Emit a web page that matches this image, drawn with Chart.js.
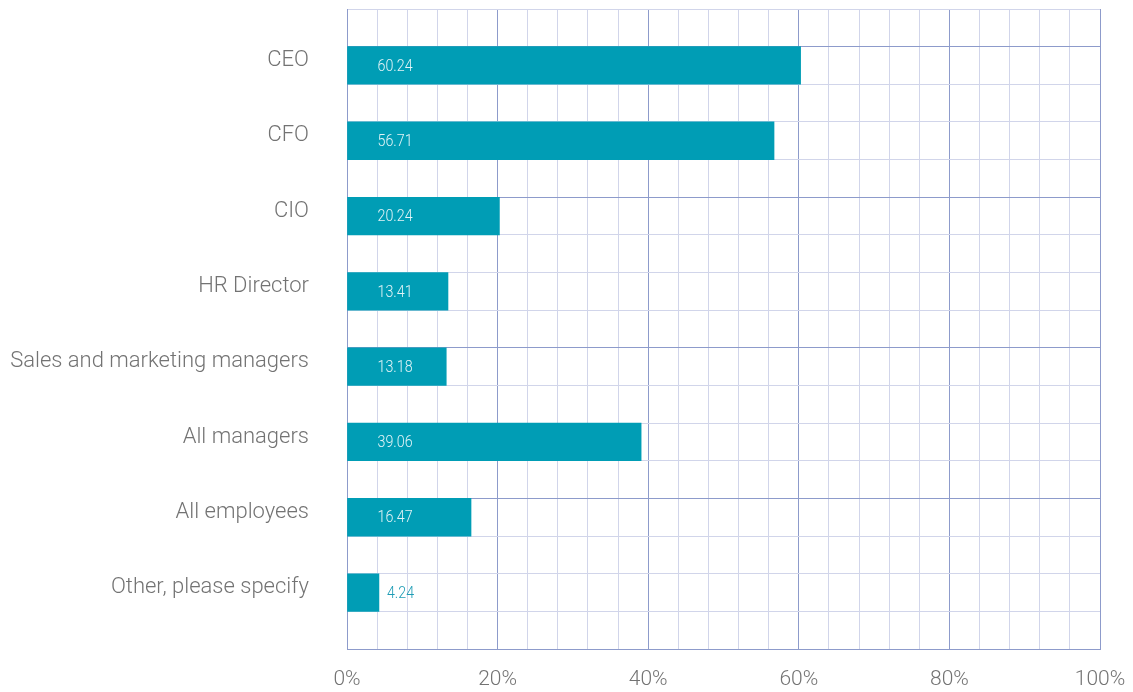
<!DOCTYPE html>
<html>
<head>
<meta charset="utf-8">
<script src="https://cdn.jsdelivr.net/npm/chart.js@4.4.1/dist/chart.umd.min.js"></script>
<style>
  html, body { margin: 0; padding: 0; background: #fff; }
  #wrap { width: 1133px; height: 692px; }
</style>
</head>
<body>
<div id="wrap"><canvas id="roleChart"></canvas></div>
<script>
const roles = [
  "CEO",
  "CFO",
  "CIO",
  "HR Director",
  "Sales and marketing managers",
  "All managers",
  "All employees",
  "Other, please specify",
];
const shares = [60.24, 56.71, 20.24, 13.41, 13.18, 39.06, 16.47, 4.24];
const pctMax = 100;
const pctStep = 4;
const pctLabelEvery = 20;

const FONT = "Roboto, 'Liberation Sans', sans-serif";
const TEAL = "#009db5";
const GRID_MINOR = "#d1d5ea";
const GRID_MAJOR = "#8d9bcb";
const TEXT_GREY = "#737373";

// each role takes two grid rows (bar + gap), plus one empty row on top
const rows = roles.length * 2 + 1;

/* ---------- value labels drawn inside (or just after) the bars ---------- */
const valueLabels = {
  id: "valueLabels",
  afterDatasetsDraw(chart) {
    const ctx = chart.ctx;
    const meta = chart.getDatasetMeta(0);
    const squeeze = 0.84;
    ctx.save();
    ctx.font = "300 17px " + FONT;
    ctx.textBaseline = "middle";
    ctx.textAlign = "left";
    meta.data.forEach((bar, i) => {
      const text = shares[i].toFixed(2);
      const w = ctx.measureText(text).width * squeeze;
      const inside = bar.x - bar.base >= 30 + w + 6;
      ctx.fillStyle = inside ? "#e2f4f7" : "#1e9cb5";
      ctx.save();
      ctx.translate(inside ? bar.base + 30 : bar.x + 8, bar.y + 1);
      ctx.scale(squeeze, 1);
      ctx.fillText(text, 0, 0);
      ctx.restore();
    });
    ctx.restore();
  },
};

new Chart(document.getElementById("roleChart"), {
  type: "bar",
  data: {
    datasets: [
      {
        data: shares.map((v, i) => ({ x: v, y: 2 * i + 1.5 })),
        backgroundColor: TEAL,
        borderWidth: 0,
        barPercentage: 1,
        categoryPercentage: 1,
      },
    ],
  },
  options: {
    indexAxis: "y",
    responsive: true,
    maintainAspectRatio: false,
    animation: false,
    layout: { padding: { top: 9, right: 33, left: 0, bottom: 0 } },
    plugins: {
      legend: { display: false },
      tooltip: { enabled: false },
    },
    scales: {
      x: {
        type: "linear",
        min: 0,
        max: pctMax,
        offset: false,
        afterBuildTicks: (s) => {
          s.ticks = [];
          for (let v = 0; v <= pctMax; v += pctStep) s.ticks.push({ value: v });
        },
        afterFit: (s) => {
          s.height = 43;
          s.paddingLeft = 0;
          s.paddingRight = 0;
        },
        grid: {
          offset: false,
          drawTicks: false,
          color: (c) => (c.tick && c.tick.value % pctLabelEvery === 0 ? GRID_MAJOR : GRID_MINOR),
        },
        border: { color: GRID_MAJOR },
        ticks: {
          autoSkip: false,
          maxRotation: 0,
          padding: 18,
          color: TEXT_GREY,
          font: { family: FONT, size: 21, weight: 300 },
          callback: (v) => (v % pctLabelEvery === 0 ? v + "%" : ""),
        },
      },
      y: {
        type: "linear",
        min: 0,
        max: rows,
        reverse: true,
        offset: false,
        afterBuildTicks: (s) => {
          s.ticks = [];
          for (let v = 0; v <= rows; v++) s.ticks.push({ value: v });
        },
        afterFit: (s) => {
          s.width = 347;
          s.paddingTop = 0;
          s.paddingBottom = 0;
        },
        grid: {
          offset: false,
          drawTicks: false,
          color: (c) => (c.tick && (c.tick.value - 1) % 4 === 0 ? GRID_MAJOR : GRID_MINOR),
        },
        border: { color: GRID_MAJOR },
        ticks: {
          autoSkip: false,
          padding: 38,
          labelOffset: 14,
          color: TEXT_GREY,
          font: { family: FONT, size: 22, weight: 300 },
          callback: (v) => (v % 2 === 1 && v < rows - 1 ? roles[(v - 1) / 2] : ""),
        },
      },
    },
  },
  plugins: [valueLabels],
});
</script>
</body>
</html>
